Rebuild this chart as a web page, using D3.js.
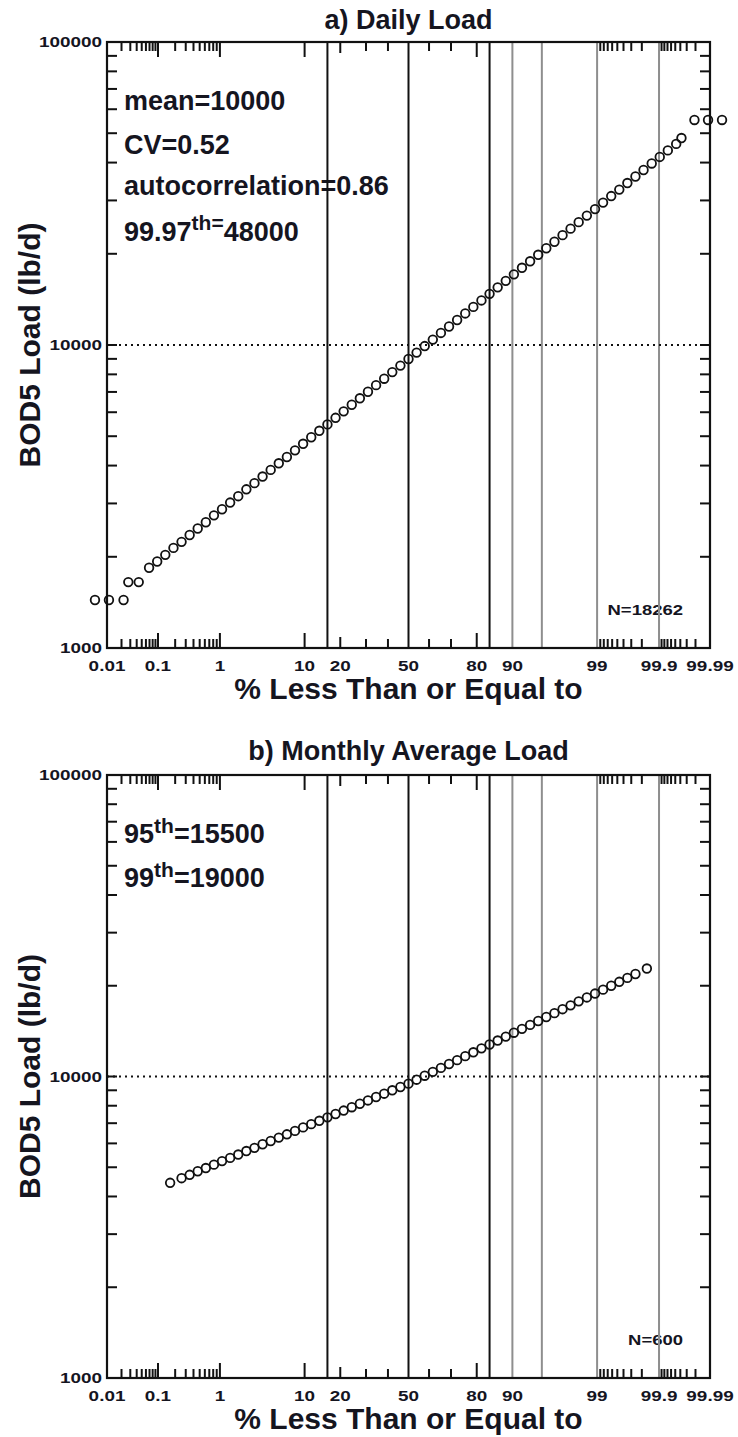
<!DOCTYPE html>
<html><head><meta charset="utf-8">
<script src="https://cdn.jsdelivr.net/npm/d3@7"></script>
<style>
body{margin:0;background:#fff}
svg{display:block}
text{font-family:"Liberation Sans",Arial,Helvetica,sans-serif;font-weight:bold;fill:#15151f}
</style>
</head><body>
<svg id="chart" width="738" height="1437"></svg>
<script>
// ---------------- data ----------------
const dailyPct = [0.0055,0.011,0.022,0.0274,0.0438,
 0.0687,0.0968,0.135,0.187,0.256,0.347,0.466,0.621,0.820,1.072,1.390,1.786,2.275,2.872,3.593,4.457,5.480,6.681,8.076,9.680,
 11.51,13.57,15.87,18.41,21.19,24.20,27.43,30.85,34.46,38.21,42.07,46.02,50,53.98,57.93,61.79,65.54,69.15,72.57,75.80,78.81,
 81.59,84.13,86.43,88.49,90.32,91.92,93.32,94.52,95.54,96.41,97.13,97.72,98.21,98.61,98.93,99.18,99.38,99.534,99.653,99.744,
 99.813,99.865,99.903,99.931,99.952,99.962,99.979,99.989,99.9945];
const dailyLoad = [1440,1440,1440,1650,1650,
 1840,1930,2030,2140,2240,2360,2480,2600,2740,2870,3020,3170,3340,3500,3680,3870,4070,4270,4490,4720,
 4960,5210,5470,5750,6040,6350,6670,7010,7370,7740,8140,8550,8990,9440,9920,10420,10960,11510,12090,12710,13360,
 14030,14750,15500,16280,17110,17980,18890,19850,20860,21920,23040,24210,25440,26730,28090,29510,31010,32580,34240,35980,
 37810,39730,41750,43870,46100,48200,55300,55300,55300];

const monthlyPct = [0.164,0.256,0.347,0.466,0.621,0.820,1.072,1.390,1.786,2.275,2.872,3.593,4.457,5.480,6.681,8.076,9.680,
 11.51,13.57,15.87,18.41,21.19,24.20,27.43,30.85,34.46,38.21,42.07,46.02,50,53.98,57.93,61.79,65.54,69.15,72.57,75.80,78.81,
 81.59,84.13,86.43,88.49,90.32,91.92,93.32,94.52,95.54,96.41,97.13,97.72,98.21,98.61,98.93,99.18,99.38,99.534,99.653,99.744,99.836];
const monthlyLoad = [4440,4600,4720,4850,4970,5100,5240,5370,5510,5660,5800,5960,6110,6270,6430,6600,6780,
 6950,7130,7320,7510,7710,7910,8120,8330,8550,8770,9000,9230,9470,9760,10060,10360,10680,11000,11330,11680,12030,
 12400,12770,13160,13560,13970,14390,14830,15280,15750,16220,16720,17220,17750,18290,18840,19410,20000,20610,21230,21880,22810];

const xLabelPct = [0.01,0.1,1,10,20,50,80,90,99,99.9,99.99];
const xLabelText = ["0.01","0.1","1","10","20","50","80","90","99","99.9","99.99"];
const xTickShort = [0.02,0.03,0.04,0.05,0.06,0.07,0.08,0.09,0.2,0.3,0.4,0.5,0.6,0.7,0.8,0.9,30,40,60,70,
 99.1,99.2,99.3,99.4,99.5,99.6,99.7,99.8,99.91,99.92,99.93,99.94,99.95,99.96,99.97,99.98];
const xTickMedium = [20];
const xTickTall = [0.1,1,10,80];
const sigmaLinePct = [15.866,50,84.134];
const grayLinePct = [90,95,99,99.9];
const yTickValues = [2000,3000,4000,5000,6000,7000,8000,9000,10000,20000,30000,40000,50000,60000,70000,80000,90000];
const yLabelValues = [1000,10000,100000];
const refLoad = 10000;

// ---------------- helpers ----------------
function probit(p){
  const a=[-3.969683028665376e+01,2.209460984245205e+02,-2.759285104469687e+02,1.383577518672690e+02,-3.066479806614716e+01,2.506628277459239e+00];
  const b=[-5.447609879822406e+01,1.615858368580409e+02,-1.556989798598866e+02,6.680131188771972e+01,-1.328068155288572e+01];
  const c=[-7.784894002430293e-03,-3.223964580411365e-01,-2.400758277161838e+00,-2.549732539343734e+00,4.374664141464968e+00,2.938163982698783e+00];
  const d=[7.784695709041462e-03,3.224671290700398e-01,2.445134137142996e+00,3.754408661907416e+00];
  const pl=0.02425, ph=1-pl; let q,r;
  if(p<pl){q=Math.sqrt(-2*Math.log(p));return (((((c[0]*q+c[1])*q+c[2])*q+c[3])*q+c[4])*q+c[5])/((((d[0]*q+d[1])*q+d[2])*q+d[3])*q+1);}
  if(p<=ph){q=p-0.5;r=q*q;return (((((a[0]*r+a[1])*r+a[2])*r+a[3])*r+a[4])*r+a[5])*q/(((((b[0]*r+b[1])*r+b[2])*r+b[3])*r+b[4])*r+1);}
  q=Math.sqrt(-2*Math.log(1-p));return -(((((c[0]*q+c[1])*q+c[2])*q+c[3])*q+c[4])*q+c[5])/((((d[0]*q+d[1])*q+d[2])*q+d[3])*q+1);
}

const svg = d3.select("#chart");
const L = 107, R = 710;
const zScale = d3.scaleLinear().domain([probit(0.0001), probit(0.9999)]).range([L, R]);
const xPos = pct => zScale(probit(pct/100));

function stext(parent, x, y, str, size, sx, anchor){
  return parent.append("text")
    .attr("transform", `translate(${x},${y}) scale(${sx},1)`)
    .attr("font-size", size).attr("text-anchor", anchor || "start").text(str);
}

function panel(cfg){
  const g = svg.append("g");
  const T = cfg.top, B = cfg.bottom;
  const y = d3.scaleLog().domain([1000,100000]).range([B, T]);

  // title
  g.append("text").attr("x",(L+R)/2).attr("y",cfg.titleY).attr("text-anchor","middle")
    .attr("font-size",27).text(cfg.title);

  // annotations (drawn beneath grid lines)
  cfg.notes(g);
  stext(g, 683, B-33, cfg.nLabel, 14, 1.32, "end");

  // reference lines
  g.selectAll(".sig").data(sigmaLinePct).join("line")
    .attr("x1",xPos).attr("x2",xPos).attr("y1",T).attr("y2",B)
    .attr("stroke","#111").attr("stroke-width",2);
  g.selectAll(".gry").data(grayLinePct).join("line")
    .attr("x1",xPos).attr("x2",xPos).attr("y1",T).attr("y2",B)
    .attr("stroke","#8e8e8e").attr("stroke-width",2);
  g.append("line").attr("x1",L).attr("x2",R).attr("y1",y(refLoad)).attr("y2",y(refLoad))
    .attr("stroke","#111").attr("stroke-width",2).attr("stroke-dasharray","2,4");

  // x ticks (bottom & top, inward)
  const xt = [].concat(xTickShort.map(v=>[v,9]), xTickMedium.map(v=>[v,11]), xTickTall.map(v=>[v,15]));
  g.selectAll(".xtb").data(xt).join("line")
    .attr("x1",d=>xPos(d[0])).attr("x2",d=>xPos(d[0])).attr("y1",B).attr("y2",d=>B-d[1])
    .attr("stroke","#111").attr("stroke-width",2);
  g.selectAll(".xtt").data(xt).join("line")
    .attr("x1",d=>xPos(d[0])).attr("x2",d=>xPos(d[0])).attr("y1",T).attr("y2",d=>T+d[1])
    .attr("stroke","#111").attr("stroke-width",2);
  // y ticks (left & right, inward)
  g.selectAll(".ytl").data(yTickValues).join("line")
    .attr("x1",L).attr("x2",L+10).attr("y1",y).attr("y2",y).attr("stroke","#111").attr("stroke-width",2);
  g.selectAll(".ytr").data(yTickValues).join("line")
    .attr("x1",R).attr("x2",R-10).attr("y1",y).attr("y2",y).attr("stroke","#111").attr("stroke-width",2);

  // frame
  g.append("rect").attr("x",L).attr("y",T).attr("width",R-L).attr("height",B-T)
    .attr("fill","none").attr("stroke","#111").attr("stroke-width",2.2);

  // tick labels
  yLabelValues.forEach(v=>stext(g, 102, y(v)+5, String(v), 14, 1.35, "end"));
  xLabelPct.forEach((p,i)=>stext(g, xPos(p), B+23, xLabelText[i], 14, 1.35, "middle"));

  // axis titles
  g.append("text").attr("x",(L+R)/2).attr("y",B+51).attr("text-anchor","middle")
    .attr("font-size",30).text("% Less Than or Equal to");
  g.append("text").attr("transform",`translate(40,${(T+B)/2}) rotate(-90)`).attr("text-anchor","middle")
    .attr("font-size",30).text("BOD5 Load (lb/d)");

  // data points
  g.selectAll(".pt").data(cfg.pct.map((p,i)=>[p,cfg.load[i]])).join("circle")
    .attr("cx",d=>xPos(d[0])).attr("cy",d=>y(d[1])).attr("r",4.3)
    .attr("fill","none").attr("stroke","#111").attr("stroke-width",1.8);
}

panel({
  top:42, bottom:648, titleY:29, title:"a) Daily Load", nLabel:"N=18262",
  pct:dailyPct, load:dailyLoad,
  notes:g=>{
    g.append("text").attr("x",124).attr("y",110).attr("font-size",27).text("mean=10000");
    g.append("text").attr("x",124).attr("y",154).attr("font-size",27).text("CV=0.52");
    g.append("text").attr("x",124).attr("y",195).attr("font-size",27).text("autocorrelation=0.86");
    const t = g.append("text").attr("x",124).attr("y",241).attr("font-size",27);
    t.append("tspan").text("99.97");
    t.append("tspan").attr("font-size",21).attr("dy",-11).text("th=");
    t.append("tspan").attr("dy",11).text("48000");
  }
});
panel({
  top:775, bottom:1378, titleY:760, title:"b) Monthly Average Load", nLabel:"N=600",
  pct:monthlyPct, load:monthlyLoad,
  notes:g=>{
    const a = g.append("text").attr("x",124).attr("y",843).attr("font-size",27);
    a.append("tspan").text("95");
    a.append("tspan").attr("font-size",21).attr("dy",-10).text("th");
    a.append("tspan").attr("dy",10).text("=15500");
    const b = g.append("text").attr("x",124).attr("y",887).attr("font-size",27);
    b.append("tspan").text("99");
    b.append("tspan").attr("font-size",21).attr("dy",-10).text("th");
    b.append("tspan").attr("dy",10).text("=19000");
  }
});
</script>
</body></html>
